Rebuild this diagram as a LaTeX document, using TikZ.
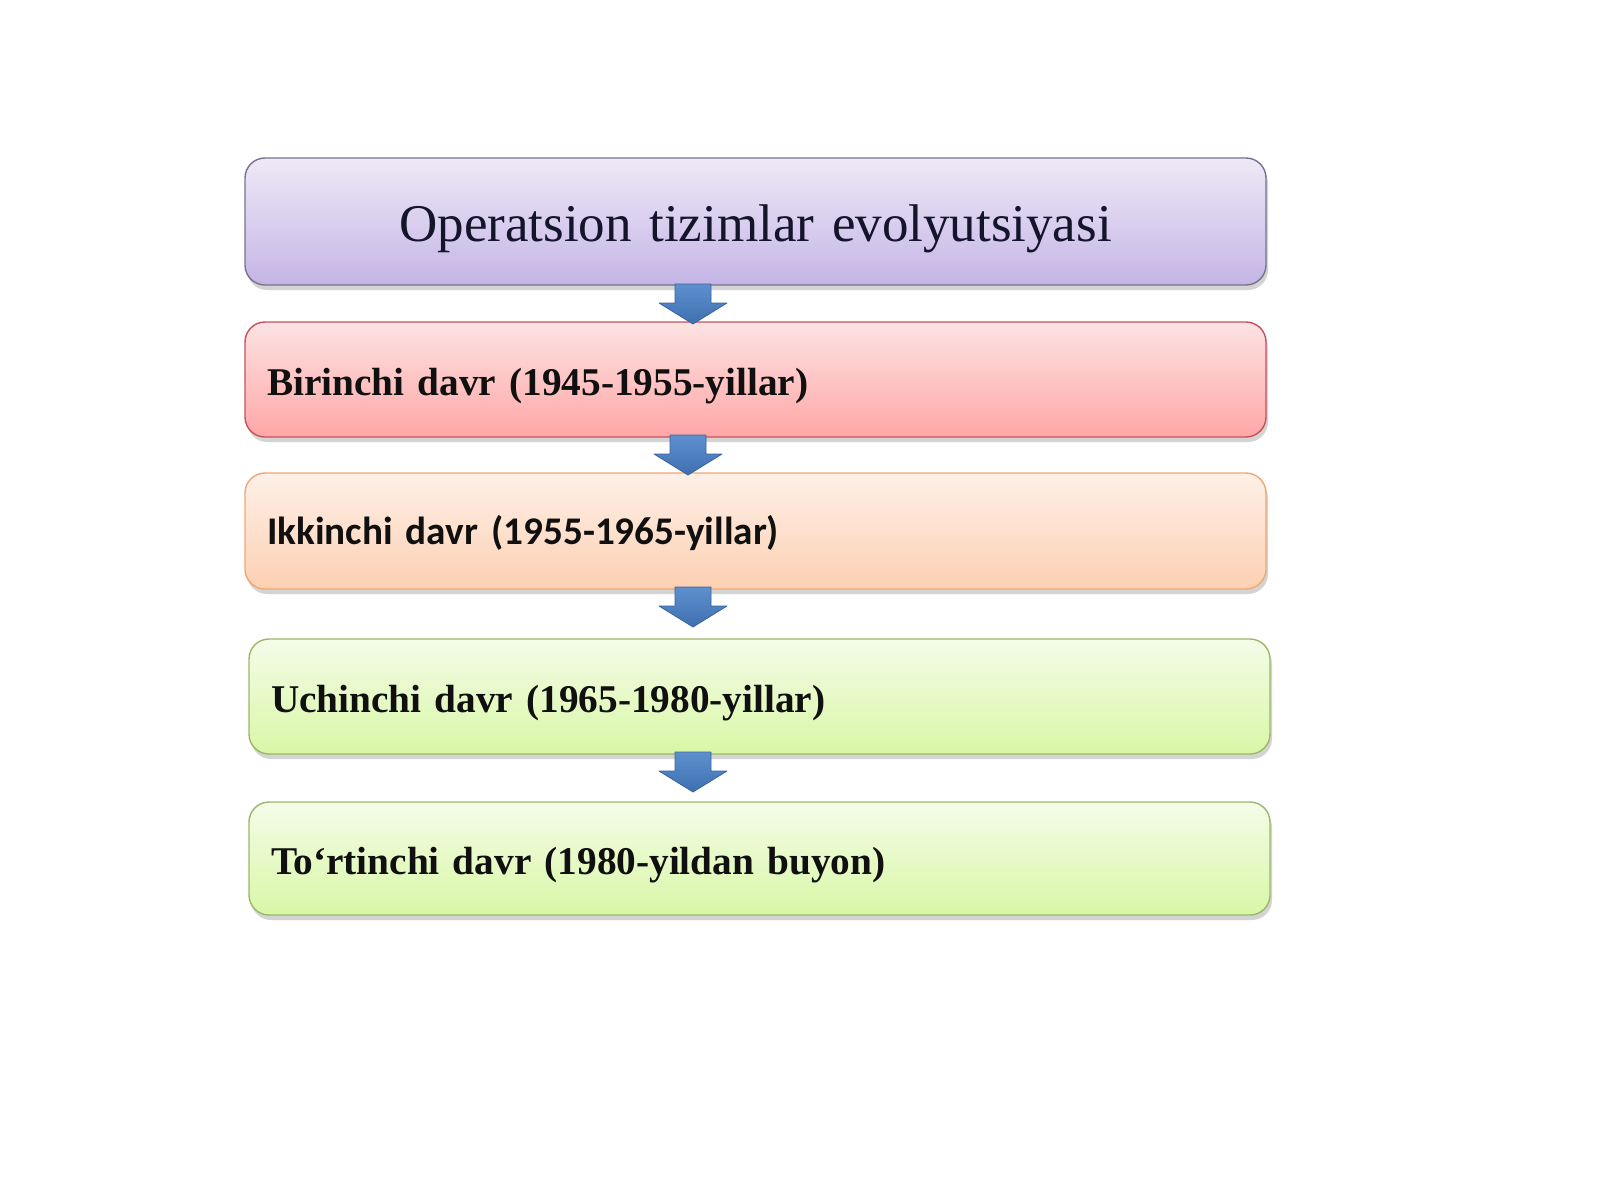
\documentclass[tikz,border=0pt]{standalone}
\usepackage{fontspec}
\setmainfont{Liberation Serif}
\newfontfamily\carlito{Carlito}
\usetikzlibrary{shadows}
\definecolor{purpTop}{HTML}{EEE9F7}
\definecolor{purpBot}{HTML}{C4B5E6}
\definecolor{purpLine}{HTML}{76738F}
\definecolor{redTop}{HTML}{FDE3E3}
\definecolor{redBot}{HTML}{FFA6A6}
\definecolor{redLine}{HTML}{C9505A}
\definecolor{orTop}{HTML}{FEF0E8}
\definecolor{orBot}{HTML}{FDD0B2}
\definecolor{orLine}{HTML}{F0A870}
\definecolor{grTop}{HTML}{F4FCE8}
\definecolor{grBot}{HTML}{D9F7A6}
\definecolor{grLine}{HTML}{9AB86A}
\definecolor{arTop}{HTML}{5E90CF}
\definecolor{arBot}{HTML}{3F6FAE}
\definecolor{arLine}{HTML}{3A659C}
\definecolor{ink}{HTML}{101010}
\definecolor{titleInk}{HTML}{14142A}
\tikzset{
  box/.style={rectangle, rounded corners=20pt, line width=1.4pt,
    inner xsep=22pt, inner ysep=0pt, text width=977pt, align=left,
    font=\bfseries\fontsize{39.3}{46}\selectfont, text=ink,
    text height=40pt, text depth=7.6pt,
    drop shadow={shadow xshift=2pt, shadow yshift=-5pt, opacity=0.3, fill=black!55}},
  purpbox/.style={box, draw=purpLine, top color=purpTop, bottom color=purpBot},
  redbox/.style={box, draw=redLine, top color=redTop, bottom color=redBot},
  orbox/.style={box, draw=orLine, top color=orTop, bottom color=orBot},
  grbox/.style={box, draw=grLine, top color=grTop, bottom color=grBot},
  downarrow/.pic={
    \path[draw=arLine, line width=0.8pt, top color=arTop, bottom color=arBot, line join=round]
      (-18,0) -- (18,0) -- (18,19) -- (34,19) -- (0,40) -- (-34,19) -- (-18,19) -- cycle;
  }
}
\begin{document}
\begin{tikzpicture}[x=1pt,y=-1pt]
\useasboundingbox[fill=white] (0,0) rectangle (1600,1200);

\node[purpbox, minimum height=127pt, align=center, font=\fontsize{53}{60}\selectfont,
  text=titleInk, text height=45pt, text depth=4.4pt]
  (b1) at (755.5,221.5) {Operatsion tizimlar evolyutsiyasi};
\node[redbox, minimum height=115pt] (b2) at (755.5,379.5) {Birinchi davr (1945-1955-yillar)};
\node[orbox, minimum height=116pt, font=\carlito\bfseries\fontsize{39.2}{46}\selectfont,
  text height=36pt, text depth=8.6pt]
  (b3) at (755.5,531) {Ikkinchi davr (1955-1965-yillar)};
\node[grbox, minimum height=115pt] (b4) at (759.5,696.5) {Uchinchi davr (1965-1980-yillar)};
\node[grbox, minimum height=113pt] (b5) at (759.5,858.5) {To‘rtinchi davr (1980-yildan buyon)};

\coordinate (a1) at (693,284);
\coordinate (a2) at (688,435);
\coordinate (a3) at (693,587);
\coordinate (a4) at (693,752);
\pic at (a1) {downarrow};
\pic at (a2) {downarrow};
\pic at (a3) {downarrow};
\pic at (a4) {downarrow};
\end{tikzpicture}
\end{document}
